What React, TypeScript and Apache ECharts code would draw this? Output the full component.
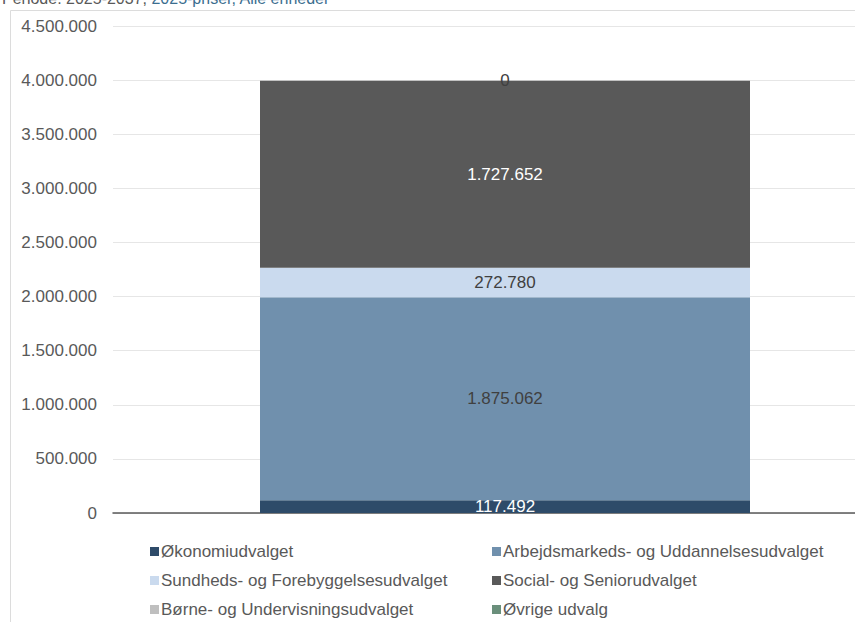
import React, { useEffect, useRef } from "react";
import * as echarts from "echarts";

const categories = ["Total"];
const seriesNames = [
  "Økonomiudvalget",
  "Arbejdsmarkeds- og Uddannelsesudvalget",
  "Sundheds- og Forebyggelsesudvalget",
  "Social- og Seniorudvalget",
  "Børne- og Undervisningsudvalget",
  "Øvrige udvalg",
];
const seriesValues = [117492, 1875062, 272780, 1727652, 0, 0];
const seriesColors = ["#2E4B69", "#7090AD", "#CADAEE", "#595959", "#BFBFBF", "#6A8F7B"];
const labelColors = ["#ffffff", "#404040", "#404040", "#ffffff", "#404040", "#404040"];
const showLabel = [true, true, true, true, true, false];
const yTicks = { min: 0, max: 4500000, interval: 500000 };

const fmt = (v: number) => String(Math.round(v)).replace(/\B(?=(\d{3})+(?!\d))/g, ".");

const legendPos = [
  { left: 145, top: 538 },
  { left: 487, top: 538 },
  { left: 145, top: 567 },
  { left: 487, top: 567 },
  { left: 145, top: 596 },
  { left: 487, top: 596 },
];

export default function App() {
  const ref = useRef<HTMLDivElement>(null);
  useEffect(() => {
    if (!ref.current) return;
    const chart = echarts.init(ref.current, null, { renderer: "svg" });
    const font = "Liberation Sans, Arial, sans-serif";
    chart.setOption({
      animation: false,
      textStyle: { fontFamily: font },
      graphic: [
        {
          type: "rect",
          shape: { x: 10.5, y: 10.5, width: 950, height: 700 },
          style: { fill: "none", stroke: "#dcdcdc", lineWidth: 1 },
          silent: true,
          z: -10,
        },
        {
          type: "text",
          left: 2,
          top: -10,
          style: {
            text: "{a|Periode: 2025-2037, }{b|2025-priser, Alle enheder}",
            rich: {
              a: { fontSize: 16, fill: "#595959", fontFamily: font },
              b: { fontSize: 16, fill: "#3B6E8F", fontFamily: font },
            },
          },
        },
      ],
      grid: { left: 113, right: 0, top: 26, bottom: 109, containLabel: false },
      legend: seriesNames.map((n, i) => ({
        data: [n],
        left: legendPos[i].left,
        top: legendPos[i].top,
        itemWidth: 9,
        itemHeight: 9,
        itemGap: 0,
        icon: "rect",
        textStyle: { fontSize: 17, color: "#595959", fontFamily: font, padding: [0, 0, 0, -3] },
        selectedMode: false,
      })),
      xAxis: {
        type: "category",
        data: categories,
        axisLabel: { show: false },
        axisTick: { show: false },
        axisLine: { show: true, lineStyle: { color: "#595959", width: 1.5 } },
      },
      yAxis: {
        type: "value",
        min: yTicks.min,
        max: yTicks.max,
        interval: yTicks.interval,
        axisLine: { show: false },
        axisTick: { show: false },
        splitLine: { lineStyle: { color: "#e6e6e6", width: 1 } },
        axisLabel: {
          color: "#595959",
          fontSize: 17,
          margin: 16,
          fontFamily: font,
          formatter: (v: number) => fmt(v),
        },
      },
      series: seriesNames.map((n, i) => ({
        name: n,
        type: "bar",
        stack: "total",
        barWidth: "62.5%",
        data: [seriesValues[i]],
        itemStyle: { color: seriesColors[i] },
        label: {
          show: showLabel[i],
          position: "inside",
          color: labelColors[i],
          fontSize: 17,
          fontFamily: font,
          formatter: (p: any) => fmt(p.value),
        },
      })),
    });
    return () => chart.dispose();
  }, []);
  return (
    <div style={{ width: 855, height: 622, position: "absolute", left: 0, top: 0, overflow: "hidden" }}>
      <div ref={ref} style={{ width: 897, height: 622 }} />
    </div>
  );
}
